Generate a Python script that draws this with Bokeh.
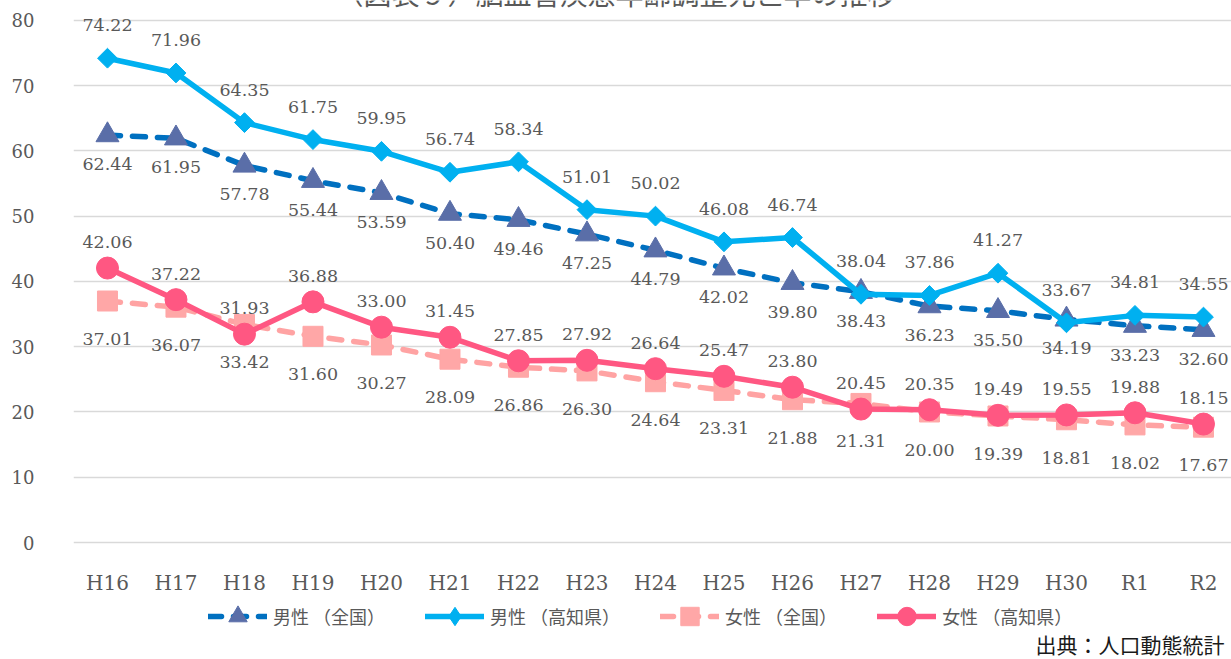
from bokeh.plotting import figure
from bokeh.models import Range1d, FixedTicker, Legend, LegendItem, Label
from bokeh.core.properties import value
from bokeh.embed import file_html
from bokeh.resources import INLINE
import numpy as np

# ---- data ----
years = ["H16", "H17", "H18", "H19", "H20", "H21", "H22", "H23", "H24",
         "H25", "H26", "H27", "H28", "H29", "H30", "R1", "R2"]
male_national = [62.44, 61.95, 57.78, 55.44, 53.59, 50.40, 49.46, 47.25, 44.79,
                 42.02, 39.80, 38.43, 36.23, 35.50, 34.19, 33.23, 32.60]
male_kochi = [74.22, 71.96, 64.35, 61.75, 59.95, 56.74, 58.34, 51.01, 50.02,
              46.08, 46.74, 38.04, 37.86, 41.27, 33.67, 34.81, 34.55]
female_national = [37.01, 36.07, 33.42, 31.60, 30.27, 28.09, 26.86, 26.30, 24.64,
                   23.31, 21.88, 21.31, 20.00, 19.39, 18.81, 18.02, 17.67]
female_kochi = [42.06, 37.22, 31.93, 36.88, 33.00, 31.45, 27.85, 27.92, 26.64,
                25.47, 23.80, 20.45, 20.35, 19.49, 19.55, 19.88, 18.15]
y_ticks = [0, 10, 20, 30, 40, 50, 60, 70, 80]
series_names = ["男性 （全国）", "男性 （高知県）", "女性 （全国）", "女性 （高知県）"]
title_text = "（図表９）脳血管疾患年齢調整死亡率の推移"
source_text = "出典：人口動態統計"

x_idx = list(range(len(years)))

SERIF = value("DejaVu Serif")
SANS = "Noto Sans CJK JP"
GREY = "#595959"

p = figure(width=1231, height=659, output_backend="svg", toolbar_location=None,
           x_range=Range1d(-0.496, 16.409), y_range=Range1d(-17.931, 83.065),
           min_border_left=73, min_border_right=0, min_border_top=0,
           min_border_bottom=0)
p.outline_line_color = None
p.background_fill_color = "white"
p.border_fill_color = "white"
p.xgrid.visible = False
p.ygrid.grid_line_color = "#D9D9D9"
p.ygrid.grid_line_width = 1.5

p.yaxis.ticker = FixedTicker(ticks=y_ticks)
p.xaxis.ticker = FixedTicker(ticks=x_idx)
p.xaxis.major_label_overrides = {i: y for i, y in enumerate(years)}
p.xaxis.fixed_location = 0
for ax in (p.xaxis, p.yaxis):
    ax.axis_line_color = None
    ax.major_tick_line_color = None
    ax.minor_tick_line_color = None
    ax.major_tick_out = 0
    ax.major_tick_in = 0
    ax.minor_tick_out = 0
    ax.major_label_text_font = "DejaVu Serif"
    ax.major_label_text_color = GREY
p.yaxis.major_label_text_font_size = "18px"
p.xaxis.major_label_text_font_size = "20px"
p.yaxis.major_label_standoff = 39
p.xaxis.major_label_standoff = 28

styles = [
    dict(vals=male_national, color="#0070C0", mcolor="#5A6EA8", dash="13 12",
         marker="triangle", size=23, angle=0.0, pos="below", off=23,
         legend_marker=None),
    dict(vals=male_kochi, color="#00B0F0", mcolor="#00B0F0", dash="solid",
         marker="square", size=14, angle=np.pi / 4, pos="above", off=-27,
         legend_marker="diamond"),
    dict(vals=female_national, color="#FFA3A3", mcolor="#FFA7A7", dash="13 12",
         marker="square", size=20, angle=0.0, pos="below", off=32,
         legend_marker=None),
    dict(vals=female_kochi, color="#FF5782", mcolor="#FF5782", dash="solid",
         marker="circle", size=22, angle=0.0, pos="above", off=-20,
         legend_marker=None),
]

legend_items = []
for s, name in zip(styles, series_names):
    lr = p.line(x_idx, s["vals"], line_color=s["color"], line_width=5.5,
                line_dash=s["dash"], line_cap="round", line_join="round")
    mr = p.scatter(x_idx, s["vals"], marker=s["marker"], size=s["size"],
                   angle=s["angle"], fill_color=s["mcolor"], line_color=s["mcolor"])
    if s["legend_marker"] is not None:
        # legend-only key marker (no visible point): diamond shape for the key
        mr = p.scatter(x=[np.nan], y=[np.nan], marker=s["legend_marker"],
                       size=s["size"], fill_color=s["mcolor"], line_color=s["mcolor"])
    legend_items.append(LegendItem(label=name, renderers=[lr, mr]))

for s in styles:
    labels = [f"{v:.2f}" for v in s["vals"]]
    baseline = "bottom" if s["pos"] == "above" else "top"
    p.text(x_idx, s["vals"], text=labels, text_align="center",
           text_baseline=baseline, y_offset=s["off"], text_font=SERIF,
           text_font_size=value("17.5px"), text_color=GREY)

leg = Legend(items=legend_items, location=(135, 20), orientation="horizontal",
             glyph_width=59, glyph_height=46, label_standoff=6,
             padding=0, margin=0, spacing=40,
             border_line_alpha=0, background_fill_alpha=0,
             label_text_font=SANS, label_text_font_size="18px",
             label_text_color=GREY)
p.add_layout(leg)

p.add_layout(Label(x=1151, y=1, x_units="screen", y_units="screen",
                   text=source_text, text_align="right", text_baseline="bottom",
                   text_font=SANS, text_font_size="21px", text_color="#1A1A1A"))

p.add_layout(Label(x=542, y=647, x_units="screen", y_units="screen",
                   text=title_text, text_align="center", text_baseline="bottom",
                   text_font=SANS, text_font_size="28px", text_color=GREY))

open("out.html", "w").write(file_html(p, INLINE))
